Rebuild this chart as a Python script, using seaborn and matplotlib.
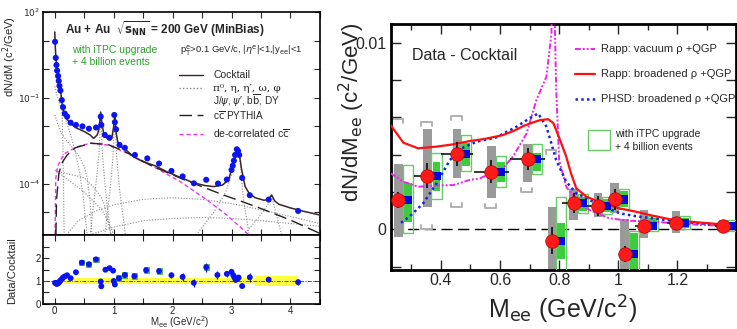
import numpy as np
import pandas as pd
import matplotlib
matplotlib.use("Agg")
import matplotlib.pyplot as plt
import seaborn as sns

sns.set_theme(style="ticks")
plt.rcParams['font.family'] = ['Liberation Sans', 'DejaVu Sans']
plt.rcParams['mathtext.fontset'] = 'dejavusans'

# ---------------- LEFT: mass spectrum ----------------
data_M = [0.005, 0.017, 0.029, 0.040, 0.056, 0.068, 0.080, 0.096, 0.12, 0.14, 0.17, 0.21, 0.27, 0.36,
          0.47, 0.58, 0.70, 0.78, 0.79, 0.85, 0.93, 1.01, 1.02, 1.04, 1.10, 1.19, 1.36, 1.57, 1.77,
          1.98, 2.17, 2.36, 2.57, 2.77, 2.92, 3.00, 3.02, 3.04, 3.06, 3.09, 3.11, 3.13, 3.18, 3.31,
          3.63, 4.13]
data_Y = [9.1, 2.5, 1.4, 0.89, 0.58, 0.39, 0.26, 0.18, 0.083, 0.047, 0.028, 0.022, 0.0135, 0.0112,
          0.0100, 0.0083, 0.0091, 0.022, 0.0112, 0.005, 0.004, 0.025, 0.014, 0.0079, 0.00224, 0.00178,
          0.001, 0.00076, 0.0005, 0.000275, 0.000178, 0.000102, 0.000135, 0.0001, 0.000138, 0.0003,
          0.00042, 0.00063, 0.001, 0.00158, 0.00138, 0.001, 0.000158, 3.9e-5, 2.75e-5, 1.1e-5]

cocktail_M = [0.0, 0.005, 0.017, 0.03, 0.04, 0.056, 0.068, 0.08, 0.096, 0.12, 0.14, 0.17, 0.21, 0.28,
              0.36, 0.5, 0.6, 0.66, 0.72, 0.75, 0.78, 0.80, 0.83, 0.88, 0.93, 0.97, 1.0, 1.02, 1.04,
              1.07, 1.12, 1.2, 1.35, 1.5, 1.7, 1.9, 2.1, 2.35, 2.55, 2.7, 2.85, 2.95, 3.02, 3.07,
              3.10, 3.13, 3.17, 3.23, 3.3, 3.4, 3.55, 3.63, 3.68, 3.73, 3.8, 4.0, 4.2, 4.5]
cocktail_Y = [20, 10, 2.8, 1.4, 1.0, 0.63, 0.44, 0.28, 0.19, 0.079, 0.041, 0.024, 0.0174, 0.012,
              0.0089, 0.0066, 0.005, 0.0038, 0.005, 0.0079, 0.0316, 0.0126, 0.0058, 0.004, 0.0033,
              0.004, 0.01, 0.027, 0.0063, 0.0028, 0.0019, 0.00155, 0.00083, 0.00058, 0.00042,
              0.00026, 0.000174, 0.000107, 8.5e-5, 7.8e-5, 8.9e-5, 0.00014, 0.0004, 0.00126,
              0.00148, 0.00112, 0.00032, 7.9e-5, 4.5e-5, 3.2e-5, 2.6e-5, 2.8e-5, 4.0e-5, 2.5e-5,
              1.9e-5, 1.4e-5, 1.1e-5, 7.9e-6]

pythia_M = [0.02, 0.03, 0.07, 0.13, 0.21, 0.35, 0.61, 0.9, 1.17, 1.62, 2.18, 2.86, 3.42, 3.99, 4.5]
pythia_Y = [1.6e-6, 2.7e-5, 2.3e-4, 5.6e-4, 1.0e-3, 1.78e-3, 2.57e-3, 2.34e-3, 1.38e-3, 4.4e-4,
            1.4e-4, 4.0e-5, 1.55e-5, 5.4e-6, 1.8e-6]

decor_M = [0.005, 0.017, 0.05, 0.1, 0.17, 0.27, 0.4, 0.61, 0.89, 1.17, 1.62, 2.13, 2.58, 2.92, 3.2, 3.4]
decor_Y = [1.6e-6, 1.5e-4, 4.0e-4, 6.8e-4, 1.12e-3, 1.48e-3, 2.0e-3, 2.57e-3, 2.24e-3, 1.32e-3,
           4.5e-4, 1.17e-4, 2.7e-5, 7.9e-6, 2.4e-6, 1.0e-6]

# cocktail components (gray dotted)
pi0_M = [0.0, 0.02, 0.05, 0.08, 0.10, 0.12, 0.14, 0.16]
pi0_Y = [20, 2.5, 0.7, 0.28, 0.16, 0.05, 0.0016, 1.6e-6]
eta_M = [0.0, 0.05, 0.1, 0.15, 0.2, 0.27, 0.35, 0.42, 0.48, 0.52, 0.55]
eta_Y = [0.25, 0.1, 0.05, 0.028, 0.014, 0.005, 0.0013, 2.5e-4, 4e-5, 6e-6, 1.6e-6]
omd_M = [0.0, 0.1, 0.2, 0.3, 0.4, 0.5, 0.55, 0.6, 0.63]
omd_Y = [0.025, 0.0063, 0.0032, 0.0018, 0.001, 4e-4, 1.6e-4, 2.5e-5, 1.6e-6]
etap_M = [0.02, 0.1, 0.3, 0.5, 0.7, 0.8, 0.85, 0.9, 0.95]
etap_Y = [3e-4, 2.5e-4, 2e-4, 1.6e-4, 6e-5, 3e-5, 1.6e-5, 5e-6, 1.6e-6]
phid_M = [0.0, 0.2, 0.5, 0.8, 0.95, 1.0]
phid_Y = [3e-4, 1.5e-4, 5e-5, 1.2e-5, 3e-6, 1.6e-6]
omee_M = [0.6, 0.7, 0.75, 0.78, 0.81, 0.86, 0.95]
omee_Y = [1.6e-6, 1e-4, 1e-3, 0.028, 1e-3, 6e-5, 1.6e-6]
phee_M = [0.85, 0.95, 0.99, 1.02, 1.05, 1.1, 1.2]
phee_Y = [1.6e-6, 1e-4, 1e-3, 0.025, 1e-3, 6e-5, 1.6e-6]
jpsi_M = [2.4, 2.7, 2.9, 3.0, 3.07, 3.1, 3.14, 3.2, 3.3]
jpsi_Y = [1.6e-6, 1e-5, 5e-5, 2e-4, 1e-3, 1.4e-3, 8e-4, 3e-5, 1.6e-6]
psip_M = [3.2, 3.45, 3.6, 3.68, 3.75, 3.85]
psip_Y = [1.6e-6, 6e-6, 1.6e-5, 3.5e-5, 1e-5, 1.6e-6]
bb_M = [0.2, 0.4, 0.7, 1.0, 1.5, 2.0, 2.5, 3.0, 3.5, 4.0, 4.5]
bb_Y = [1.6e-6, 5e-6, 1.1e-5, 1.8e-5, 2.8e-5, 3.2e-5, 2.8e-5, 2.0e-5, 1.2e-5, 7e-6, 4e-6]
dy_M = [0.6, 1.0, 1.5, 2.0, 2.5, 3.0, 3.5, 4.0, 4.5]
dy_Y = [1.6e-6, 3e-6, 5e-6, 6e-6, 6.5e-6, 6e-6, 5e-6, 4e-6, 3.2e-6]

# ratio panel
ratio_M = [0.005, 0.017, 0.029, 0.04, 0.056, 0.068, 0.08, 0.096, 0.12, 0.14, 0.17, 0.21, 0.27, 0.36,
           0.46, 0.58, 0.70, 0.78, 0.79, 0.86, 0.93, 0.99, 1.0, 1.02, 1.09, 1.19, 1.35, 1.55, 1.77,
           1.98, 2.17, 2.36, 2.57, 2.76, 2.92, 3.0, 3.03, 3.05, 3.07, 3.10, 3.12, 3.18, 3.31, 3.63, 4.13]
ratio_V = [0.92, 0.9, 0.88, 0.88, 0.9, 0.93, 0.97, 1.02, 1.08, 1.15, 1.2, 1.25, 1.12, 1.38, 1.80,
           1.73, 1.94, 0.98, 0.77, 1.49, 1.56, 1.45, 1.0, 0.85, 1.12, 1.26, 1.21, 1.47, 1.43, 1.25,
           1.18, 0.92, 1.6, 1.26, 1.31, 1.4, 1.25, 1.15, 1.05, 1.1, 1.15, 0.78, 1.16, 1.06, 0.95]
ratio_err = [0.03] * 13 + [0.06, 0.06, 0.06, 0.06, 0.08, 0.08, 0.06, 0.06, 0.06, 0.06, 0.06,
             0.08, 0.08, 0.08, 0.08, 0.08, 0.12, 0.18, 0.18, 0.2, 0.18, 0.12, 0.1, 0.1, 0.1, 0.1,
             0.1, 0.1, 0.05, 0.2, 0.12, 0.12]
ratio_box = [0.0] * 14 + [0.1, 0.1, 0.1, 0, 0, 0, 0, 0, 0, 0, 0.12, 0.12, 0.12, 0.12, 0.12, 0, 0,
             0, 0.12, 0, 0, 0, 0, 0, 0, 0, 0, 0, 0, 0, 0]
band_M = [0.15, 3.4, 3.4, 4.13]
band_lo = [0.88, 0.88, 0.77, 0.77]
band_hi = [1.12, 1.12, 1.23, 1.23]

# ---------------- RIGHT: Data - Cocktail ----------------
dc_M = [0.256, 0.354, 0.455, 0.571, 0.693, 0.776, 0.849, 0.931, 0.988, 1.022, 1.087, 1.196, 1.356]
dc_V = [0.00157, 0.00287, 0.00403, 0.00309, 0.00377, -0.00061, 0.00143, 0.00125, 0.0016, -0.00132,
        0.0002, 0.00032, 0.0002]
dc_xerr = [0.035, 0.045, 0.055, 0.06, 0.06, 0.015, 0.04, 0.04, 0.015, 0.015, 0.03, 0.03, 0.03]
dc_yerr = [0.00045, 0.00067, 0.00063, 0.00063, 0.0006, 0.00072, 0.00054, 0.00054, 0.00054, 0.00045,
           0.00012, 0.0001, 0.0001]
sys_lo = [-0.0004, 0.0012, 0.00273, 0.00166, 0.00252, -0.003, 0.0005, 0.00068, 0.00086, -0.003,
          -0.00047, -0.00021, -0.00012]
sys_hi = [0.0035, 0.0054, 0.0054, 0.00448, 0.00457, 0.00122, 0.00214, 0.00193, 0.0025, 0.00054,
          0.00101, 0.00099, 0.00051]
itpc_lo = [0.00041, 0.00207, 0.00339, 0.00253, 0.00314, -0.00159, 0.001, 0.00091, 0.00118, -0.003,
           0.0, 0.00009, 0.0]
itpc_hi = [0.0025, 0.00359, 0.00464, 0.00359, 0.0041, 0.00035, 0.00175, 0.00162, 0.00205, -0.00021,
           0.00059, 0.00059, 0.00041]
itpc_out_lo = [-0.00021, 0.00161, 0.00314, 0.00228, 0.00296, -0.003, 0.00085, 0.0008, 0.00108,
               -0.003, -0.0001, 0.0, -0.0001]
itpc_out_hi = [0.00344, 0.00407, 0.00505, 0.00394, 0.00457, 0.00175, 0.0019, 0.00175, 0.00215,
               -0.0001, 0.0007, 0.0007, 0.0005]
brk_M = [0.252, 0.351, 0.351, 0.452, 0.452, 0.568, 0.690, 0.772]
brk_V = [0.00589, 0.00576, 0.0, 0.00607, 0.00121, 0.00112, 0.00198, 0.00425]
brk_dir = [1, 1, -1, 1, -1, -1, -1, 1]

vac_M = [0.23, 0.273, 0.323, 0.385, 0.442, 0.498, 0.532, 0.588, 0.61, 0.644, 0.69, 0.723, 0.757,
         0.774, 0.78, 0.786, 0.79, 0.80, 0.824, 0.858, 0.903, 0.97, 1.037, 1.117, 1.2, 1.286, 1.40]
vac_V = [0.003, 0.00255, 0.00228, 0.00235, 0.00237, 0.00265, 0.00273, 0.00315, 0.00327, 0.0039,
         0.00514, 0.00693, 0.00818, 0.0105, 0.02, 0.0105, 0.0075, 0.00371, 0.00228, 0.00157,
         0.00103, 0.00059, 0.00046, 0.00041, 0.00032, 0.00023, 0.00015]
brd_M = [0.23, 0.273, 0.323, 0.385, 0.44, 0.498, 0.55, 0.61, 0.65, 0.678, 0.71, 0.735, 0.763, 0.78,
         0.79, 0.805, 0.824, 0.84, 0.858, 0.892, 0.948, 1.005, 1.061, 1.12, 1.175, 1.23, 1.286,
         1.34, 1.40]
brd_V = [0.00558, 0.00464, 0.00434, 0.00443, 0.00455, 0.00473, 0.00485, 0.00505, 0.0053, 0.00553,
         0.00572, 0.00585, 0.0059, 0.0057, 0.00532, 0.0047, 0.00389, 0.003, 0.0022, 0.00175,
         0.00139, 0.00112, 0.00094, 0.00072, 0.00054, 0.00043, 0.00035, 0.00028, 0.00023]
phsd_M = [0.265, 0.295, 0.34, 0.385, 0.43, 0.464, 0.52, 0.588, 0.656, 0.70, 0.729, 0.757, 0.79,
          0.824, 0.858, 0.926, 1.005, 1.06, 1.117, 1.2, 1.286, 1.40]
phsd_V = [0.00035, 0.0007, 0.00139, 0.00246, 0.0037, 0.0043, 0.00469, 0.00493, 0.0055, 0.00595,
          0.00621, 0.0055, 0.00371, 0.00255, 0.00193, 0.00139, 0.00086, 0.0007, 0.00059, 0.00042,
          0.00031, 0.00015]

# ---------------- figure ----------------
fig = plt.figure(figsize=(7.37, 3.29), dpi=100)
axT = fig.add_axes([0.0583, 0.2857, 0.3758, 0.6778])
axB = fig.add_axes([0.0583, 0.0760, 0.3758, 0.2097])
axR = fig.add_axes([0.5301, 0.1793, 0.4692, 0.7477])

gray = '#8a8a8a'
dot = (0, (1, 1.5))
for cm, cy in [(pi0_M, pi0_Y), (eta_M, eta_Y), (omd_M, omd_Y), (etap_M, etap_Y), (phid_M, phid_Y),
               (omee_M, omee_Y), (phee_M, phee_Y), (jpsi_M, jpsi_Y), (psip_M, psip_Y),
               (bb_M, bb_Y), (dy_M, dy_Y)]:
    sns.lineplot(x=cm, y=cy, ax=axT, color=gray, lw=0.8, linestyle=dot, sort=False,
                 estimator=None, zorder=2)
sns.lineplot(x=decor_M, y=decor_Y, ax=axT, color='#ee33ee', lw=1.0, linestyle=(0, (3, 2)),
             sort=False, estimator=None, zorder=3)
sns.lineplot(x=pythia_M, y=pythia_Y, ax=axT, color='#222222', lw=1.0, linestyle=(0, (9, 4)),
             sort=False, estimator=None, zorder=3)
sns.lineplot(x=cocktail_M, y=cocktail_Y, ax=axT, color='#3a2626', lw=1.1, sort=False,
             estimator=None, zorder=4)
sns.scatterplot(x=data_M, y=data_Y, ax=axT, color='#0a14f0', s=19, edgecolor='none', zorder=5)
axT.set_yscale('log')
axT.set_xlim(-0.2, 4.5)
axT.set_ylim(10 ** -5.8, 100)
decs = [1e2, 1e1, 1e0, 1e-1, 1e-2, 1e-3, 1e-4, 1e-5]
axT.set_yticks(decs)
axT.set_yticklabels([r'$10^{2}$', '', '', r'$10^{-1}$', '', '', r'$10^{-4}$', ''], fontsize=6.5)
axT.yaxis.set_minor_locator(matplotlib.ticker.NullLocator())
axT.set_xticks(np.arange(0, 4.51, 0.5))
axT.set_xticklabels([])
axT.tick_params(direction='in', top=True, right=True, length=4, width=0.8, pad=2)
axT.set_xlabel('')
axT.set_ylabel('dN/dM (c$^2$/GeV)', fontsize=8)
axT.yaxis.set_label_coords(-0.085, 0.80)

# text in left panel
tA = axT.transAxes
axT.text(0.079, 0.924, r'Au + Au  $\sqrt{\mathbf{s}_{\mathbf{NN}}}$ = 200 GeV (MinBias)',
         transform=tA, fontsize=8.5, fontweight='bold', va='center', ha='left')
axT.text(0.105, 0.830, 'with iTPC upgrade', transform=tA, fontsize=7.5, color='#2ca02c',
         va='center')
axT.text(0.105, 0.776, '+ 4 billion events', transform=tA, fontsize=7.5, color='#2ca02c',
         va='center')
axT.text(0.495, 0.825, r'p$_{\rm T}^{\rm e}$>0.1 GeV/c, |$\eta^{\rm e}$|<1,|y$_{\rm ee}$|<1',
         transform=tA, fontsize=6.8, va='center')
leg_items = [(0.717, '-', '#3a2626'),
             (0.659, dot, gray),
             (0.540, (0, (9, 4)), '#222222'),
             (0.453, (0, (3, 2)), '#ee33ee')]
for yy, ls, col in leg_items:
    axT.plot([0.491, 0.578], [yy, yy], transform=tA, ls=ls, color=col, lw=1.0)
axT.text(0.614, 0.717, 'Cocktail', transform=tA, fontsize=7.5, va='center')
axT.text(0.614, 0.659, 'π⁰, η, η′, ω, φ', transform=tA, fontsize=7.5, va='center',
         family=['DejaVu Serif'])
axT.text(0.614, 0.600, r'J/$\psi$, $\psi$′, b$\overline{\rm b}$, DY', transform=tA, fontsize=7.2,
         va='center')
axT.text(0.614, 0.535, r'c$\overline{\rm c}$ PYTHIA', transform=tA, fontsize=7.2, va='center')
axT.text(0.614, 0.453, r'de-correlated c$\overline{\rm c}$', transform=tA, fontsize=7.5,
         va='center')

# ratio panel
axB.fill_between(band_M, band_lo, band_hi, color='#ffff40', lw=0, zorder=1)
axB.axhline(1.0, color='#555555', lw=0.7, ls=(0, (4, 1.5, 1, 1.5)), zorder=2)
for m, v, b in zip(ratio_M, ratio_V, ratio_box):
    if b > 0:
        axB.bar(m, 2 * b, bottom=v - b, width=0.085, color='#44cc44', edgecolor='#33aa33',
                lw=0.5, zorder=3)
axB.errorbar(ratio_M, ratio_V, yerr=ratio_err, fmt='none', ecolor='#1a1aa0', elinewidth=0.9,
             zorder=4)
sns.scatterplot(x=ratio_M, y=ratio_V, ax=axB, color='#0a14f0', s=18, edgecolor='none', zorder=5)
axB.set_xlim(-0.2, 4.5)
axB.set_ylim(0, 3)
axB.set_yticks([0, 1, 2])
axB.set_yticks([0.5, 1.5, 2.5], minor=True)
axB.set_xticks([0, 1, 2, 3, 4])
axB.set_xticks([0.5, 1.5, 2.5, 3.5, 4.5], minor=True)
axB.tick_params(which='both', direction='in', top=True, right=True, labelsize=7, pad=1.5)
axB.tick_params(which='major', length=4, width=0.8)
axB.tick_params(which='minor', length=4, width=0.8)
axB.set_ylabel('Data/Cocktail', fontsize=8)
axB.yaxis.set_label_coords(-0.094, 0.49)
axB.set_xlabel(r'M$_{\rm ee}$ (GeV/c$^2$)', fontsize=7)
axB.xaxis.set_label_coords(0.495, -0.155)

for ax in (axT, axB):
    for s in ax.spines.values():
        s.set_linewidth(1.2)
        s.set_color('black')

# ---------------- right panel ----------------
axR.axhline(0, color='black', lw=1.0, ls=(0, (8, 4)), zorder=1)
axR.bar(dc_M, np.array(sys_hi) - np.array(sys_lo), bottom=sys_lo, width=0.029, color='#9a9a9a',
        lw=0, zorder=2)
off = 0.031
gM = [m + off for m in dc_M]
axR.bar(gM, np.array(itpc_hi) - np.array(itpc_lo), bottom=itpc_lo, width=0.027,
        color='#3dcc3d', lw=0, zorder=2.5)
axR.bar(gM, np.array(itpc_out_hi) - np.array(itpc_out_lo), bottom=itpc_out_lo, width=0.034,
        fill=False, edgecolor='#66cc66', lw=1.0, zorder=2.6)
bw, bl = 0.018, 0.00022
for m, v, d in zip(brk_M, brk_V, brk_dir):
    axR.plot([m - bw, m - bw, m + bw, m + bw], [v - d * bl, v, v, v - d * bl], color='#b0b0b0',
             lw=1.4, zorder=2.2)

sns.lineplot(x=vac_M, y=vac_V, ax=axR, color='#ee22ee', lw=1.4,
             linestyle=(0, (3, 1, 1, 1, 1, 1)), sort=False, estimator=None, zorder=3)
sns.lineplot(x=brd_M, y=brd_V, ax=axR, color='#ff1010', lw=1.6, sort=False, estimator=None,
             zorder=3.2)
sns.lineplot(x=phsd_M, y=phsd_V, ax=axR, color='#1525e0', lw=1.8, linestyle=(0, (1, 1.3)),
             sort=False, estimator=None, zorder=3.1)

axR.errorbar(dc_M, dc_V, xerr=dc_xerr, yerr=dc_yerr, fmt='none', ecolor='black', elinewidth=1.1,
             zorder=4)
sns.scatterplot(x=gM, y=dc_V, ax=axR, marker='s', s=34, color='#0008e0', edgecolor='none',
                zorder=5)
sns.scatterplot(x=dc_M, y=dc_V, ax=axR, s=95, color='#ff1a1a', edgecolor='#b00000', lw=0.5,
                zorder=6)

axR.set_xlim(0.23, 1.40)
axR.set_ylim(-0.00218, 0.011)
axR.set_xticks([0.4, 0.6, 0.8, 1.0, 1.2])
axR.set_xticklabels(['0.4', '0.6', '0.8', '1', '1.2'])
axR.set_xticks(np.arange(0.3, 1.4, 0.2), minor=True)
axR.set_yticks([-0.002, 0, 0.002, 0.004, 0.006, 0.008, 0.010])
axR.set_yticklabels(['', '0', '', '', '', '', '0.01'])
axR.tick_params(which='both', direction='in', top=True, right=True, labelsize=11.5)
axR.tick_params(axis='x', pad=2)
axR.tick_params(axis='y', pad=3)
axR.tick_params(which='major', length=7, width=1.0)
axR.tick_params(which='minor', length=4, width=1.0)
for s in axR.spines.values():
    s.set_linewidth(2.0)
    s.set_color('black')
axR.set_ylabel(r'dN/dM$_{\rm ee}$ (c$^2$/GeV)', fontsize=16)
axR.yaxis.set_label_coords(-0.068, 0.64)
axR.set_xlabel(r'M$_{\rm ee}$ (GeV/c$^2$)', fontsize=18)
axR.xaxis.set_label_coords(0.498, -0.095)

tR = axR.transAxes
axR.text(0.061, 0.874, 'Data - Cocktail', transform=tR, fontsize=11.5, va='center')
leg_r = [(0.897, (0, (3, 1, 1, 1, 1, 1)), '#ee22ee', 1.4, 'Rapp: vacuum ρ +QGP'),
         (0.797, '-', '#ff1010', 1.6, 'Rapp: broadened ρ +QGP'),
         (0.695, (0, (1, 1.3)), '#1525e0', 1.8, 'PHSD: broadened ρ +QGP')]
for yy, ls, col, lw, lab in leg_r:
    axR.plot([0.533, 0.591], [yy, yy], transform=tR, ls=ls, color=col, lw=lw)
    axR.text(0.608, yy, lab, transform=tR, fontsize=8, va='center')
axR.add_patch(plt.Rectangle((0.571, 0.488), 0.064, 0.081, transform=tR, fill=False,
                            edgecolor='#66cc66', lw=1.0))
axR.text(0.649, 0.554, 'with iTPC upgrade', transform=tR, fontsize=7.5, va='center')
axR.text(0.649, 0.499, '+ 4 billion events', transform=tR, fontsize=7.5, va='center')

fig.savefig('out.png', dpi=100)
